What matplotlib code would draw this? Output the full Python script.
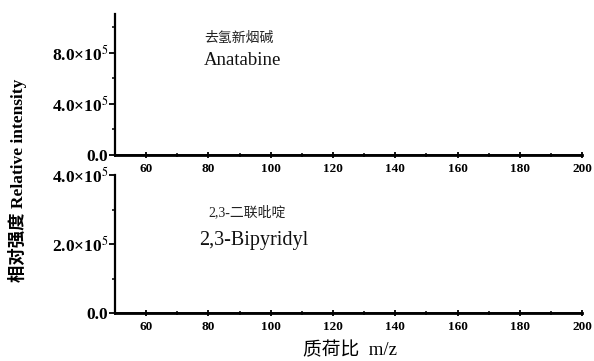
import matplotlib
matplotlib.use("Agg")
import matplotlib.pyplot as plt
from matplotlib.ticker import MultipleLocator

plt.rcParams['font.family'] = ['Liberation Serif', 'Noto Sans CJK SC']
plt.rcParams['mathtext.fontset'] = 'stix'

# spectra (no visible peaks in the reference, baseline only)
anatabine_mz = [50, 200]
anatabine_int = [0, 0]
bipyridyl_mz = [50, 200]
bipyridyl_int = [0, 0]

top_yticks = [0, 4.0e5, 8.0e5]
top_ylabels = ['0.0', '4.0×10$^{5}$', '8.0×10$^{5}$']
bot_yticks = [0, 2.0e5, 4.0e5]
bot_ylabels = ['0.0', '2.0×10$^{5}$', '4.0×10$^{5}$']
xticks = [60, 80, 100, 120, 140, 160, 180, 200]

fig = plt.figure(figsize=(5.94, 3.61), dpi=100)
ax1 = fig.add_axes([0.1936, 0.5706, 0.7864, 0.390])
ax2 = fig.add_axes([0.1936, 0.133, 0.7864, 0.382])

for ax, mz, inten, yt, yl, ymax in [
    (ax1, anatabine_mz, anatabine_int, top_yticks, top_ylabels, 1.1e6),
    (ax2, bipyridyl_mz, bipyridyl_int, bot_yticks, bot_ylabels, 4.0e5),
]:
    ax.plot(mz, inten, color='black', lw=1.2)
    ax.set_xlim(50, 200)
    ax.set_ylim(0, ymax)
    ax.set_xticks(xticks)
    ax.set_xticklabels([str(v) for v in xticks], fontsize=9.5, fontweight='bold')
    ax.xaxis.set_minor_locator(MultipleLocator(10))
    ax.set_yticks(yt)
    ax.set_yticklabels(yl, fontsize=12.5, fontweight='bold')
    ax.yaxis.set_minor_locator(MultipleLocator(yt[1] / 2))
    for s in ['top', 'right']:
        ax.spines[s].set_visible(False)
    ax.spines['left'].set_linewidth(1.6)
    ax.spines['bottom'].set_linewidth(2)
    ax.tick_params(axis='x', direction='inout', length=5, width=1.3, pad=3)
    ax.tick_params(axis='x', which='minor', direction='inout', length=3, width=1.1)
    ax.tick_params(axis='y', direction='out', length=4, width=1.3, pad=1)
    ax.tick_params(axis='y', which='minor', direction='out', length=2, width=1.1)
    ax.patch.set_alpha(0)

ax1.text(0.19, 0.80, '去氢新烟碱', transform=ax1.transAxes, fontsize=10, color='#222222')
ax1.text(0.19, 0.64, 'Anatabine', transform=ax1.transAxes, fontsize=13.5, color='#111111')
ax2.text(0.20, 0.70, '2,3-二联吡啶', transform=ax2.transAxes, fontsize=10, color='#222222')
ax2.text(0.18, 0.49, '2,3-Bipyridyl', transform=ax2.transAxes, fontsize=14.5, color='#111111')

fig.text(0.03, 0.5, '相对强度 Relative intensity', rotation=90, va='center', ha='center', fontsize=12.5, fontweight='bold')
fig.text(0.59, 0.03, '质荷比  m/z', ha='center', va='center', fontsize=13.5)

fig.savefig('out.png', dpi=100)
